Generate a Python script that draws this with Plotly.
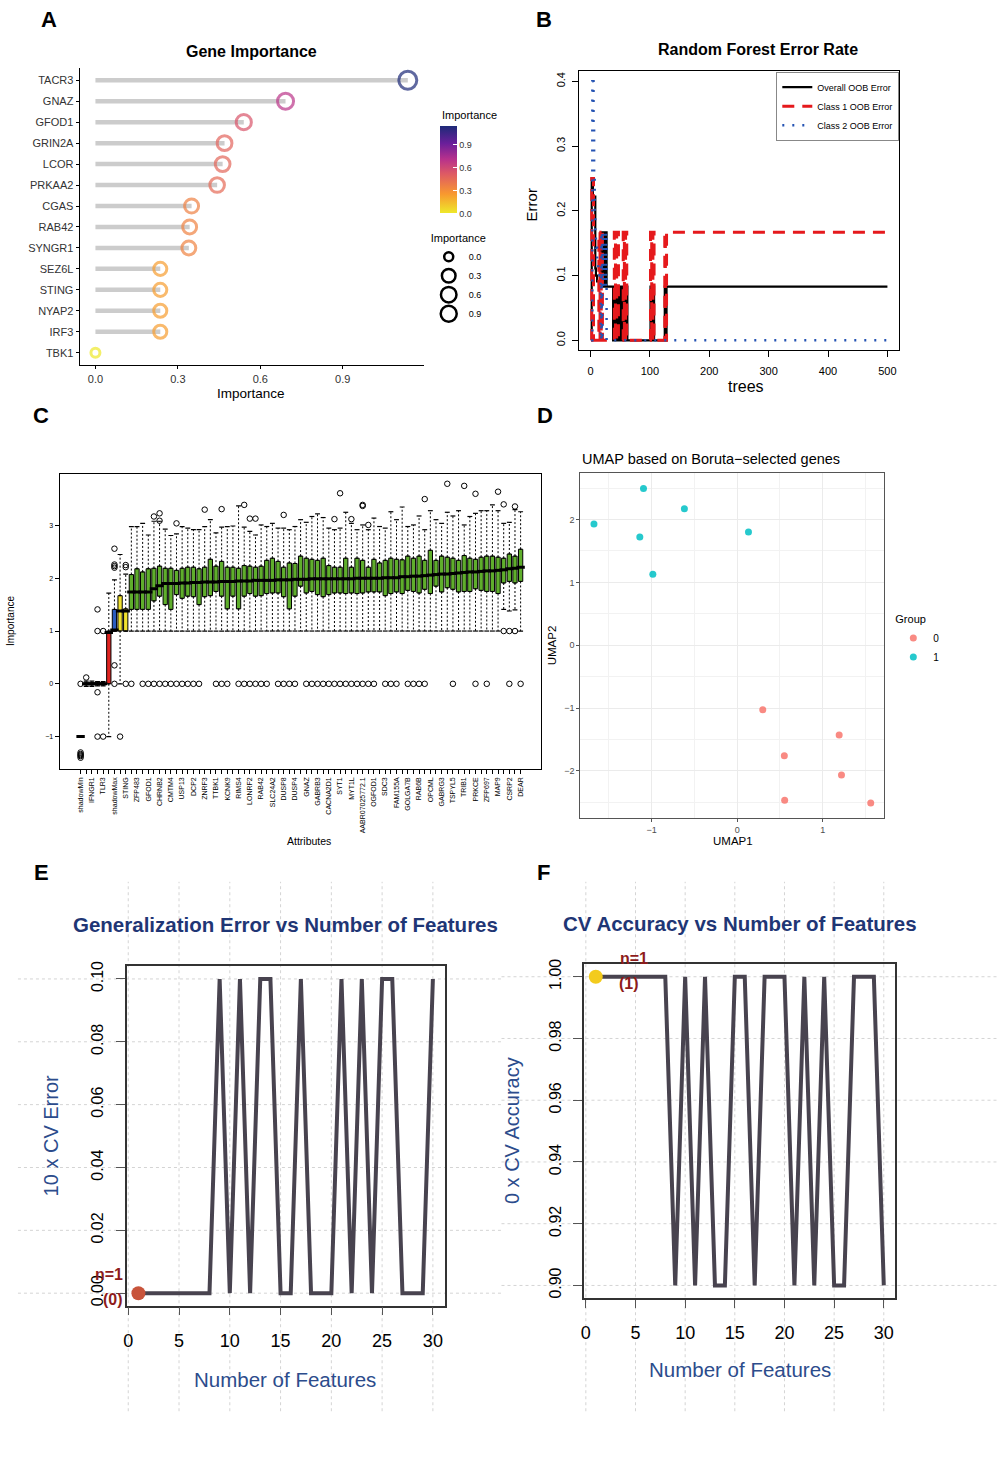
import math
import plotly.graph_objects as go

W, H = 999, 1462
FONT = "Arial, Liberation Sans, DejaVu Sans, sans-serif"
NAVY = "#1f3675"
NAVY2 = "#2c4c8c"
DARKRED = "#8e1b1b"

# ------------------------------------------------------------------ DATA
# A: gene importance
a_genes = ["TACR3", "GNAZ", "GFOD1", "GRIN2A", "LCOR", "PRKAA2", "CGAS",
           "RAB42", "SYNGR1", "SEZ6L", "STING", "NYAP2", "IRF3", "TBK1"]
a_importance = [1.137, 0.692, 0.540, 0.470, 0.463, 0.443, 0.350,
                0.343, 0.340, 0.236, 0.236, 0.236, 0.236, 0.0]
a_ticks = [0.0, 0.3, 0.6, 0.9]
a_ticklabels = ["0.0", "0.3", "0.6", "0.9"]

# B: random forest OOB error (change points, drawn as steps)
b_overall_trees = [1, 2, 4, 6, 8, 9, 11, 17,
                   18, 19, 20, 21, 22, 23, 24, 25, 26, 27,
                   38, 39, 40, 41, 42, 43, 44, 45, 46, 47, 48, 49, 50,
                   51, 52, 53, 54, 55, 56, 57, 58, 59, 60, 61, 62,
                   101, 103, 105, 107, 125, 126, 128, 500]
b_overall_err = [0.0, 0.25, 0.222, 0.222, 0.111, 0.1, 0.091, 0.091,
                 0.167, 0.091, 0.167, 0.083, 0.167, 0.083, 0.167, 0.083, 0.167, 0.083,
                 0.0, 0.083, 0.0, 0.083, 0.0, 0.083, 0.0, 0.083, 0.0, 0.083, 0.0, 0.083, 0.0,
                 0.083, 0.0, 0.083, 0.0, 0.083, 0.0, 0.083, 0.0, 0.083, 0.0, 0.083, 0.0,
                 0.083, 0.0, 0.083, 0.0, 0.083, 0.0, 0.083, 0.083]
b_class1_trees = [1, 2, 5, 14, 16, 18, 20,
                  40, 42, 44, 47, 55, 57, 59, 61,
                  101, 103, 105, 107, 125, 126, 128, 500]
b_class1_err = [0.0, 0.25, 0.0, 0.167, 0.0, 0.167, 0.0,
                0.167, 0.0, 0.167, 0.0, 0.167, 0.0, 0.167, 0.0,
                0.167, 0.0, 0.167, 0.0, 0.167, 0.0, 0.167, 0.167]
b_class2_trees = [1, 3, 5, 6, 7, 8, 9, 11, 13, 15, 17, 18, 19, 20, 21, 22, 23, 24, 25, 26, 27, 500]
b_class2_err = [0.0, 0.4, 0.333, 0.25, 0.2, 0.167, 0.143, 0.125, 0.111, 0.1, 0.0,
                0.167, 0.0, 0.167, 0.083, 0.167, 0.083, 0.167, 0.083, 0.167, 0.0, 0.0]
b_xticks = [0, 100, 200, 300, 400, 500]
b_yticks = [0.0, 0.1, 0.2, 0.3, 0.4]
b_yticklabels = ["0.0", "0.1", "0.2", "0.3", "0.4"]

# C: Boruta importance boxplots (79 attributes, every 2nd labelled)
c_labels = ["shadowMin", "IFNGR1", "TLR3", "shadowMax", "STING", "ZFP483", "GFOD1",
            "CHRNB2", "CMTM4", "USP13", "DCP2", "ZNRF3", "TTBK1", "KCNK9", "RIMS4",
            "LONRF2", "RAB42", "SLC24A2", "DUSP8", "DUSP4", "GNAZ", "GABRB3",
            "CACNA2D1", "SYT1", "MYT1L", "AABR07025772.1", "OGFOD1", "SDC3",
            "FAM155A", "GOLGA7B", "RAB6B", "OPCML", "GABRG3", "TSPYL5", "TRIB1",
            "PRKCE", "ZFP697", "MAP9", "CSRP2", "DEAR"]
c_status = (["shadow", "shadow", "rejected", "rejected", "rejected", "rejected",
             "shadow", "tentative", "tentative"] + ["confirmed"] * 70)
c_q1 = [-1.0, -0.02, -0.02, -0.02, -0.02, 0.0, 1.0, 1.0, 1.0,
        1.41, 1.41, 1.41, 1.41, 1.57, 1.66, 1.50, 1.41, 1.69, 1.62,
        1.66, 1.65, 1.50, 1.65, 1.67, 1.75, 1.66, 1.42, 1.66, 1.42,
        1.66, 1.71, 1.66, 1.67, 1.71, 1.72, 1.72, 1.65, 1.42, 1.66,
        1.85, 1.72, 1.75, 1.69, 1.65, 1.69, 1.72, 1.72, 1.71, 1.72,
        1.71, 1.72, 1.74, 1.74, 1.74, 1.67, 1.71, 1.74, 1.71, 1.77,
        1.75, 1.72, 1.79, 1.71, 1.85, 1.74, 1.82, 1.79, 1.74, 1.75,
        1.75, 1.80, 1.77, 1.75, 1.75, 1.71, 1.91, 1.94, 1.91, 1.94]
c_median = [-1.0, 0.0, 0.0, 0.0, 0.0, 0.97, 1.02, 1.38, 1.38,
            1.74, 1.74, 1.74, 1.74, 1.80, 1.86, 1.90, 1.90, 1.90, 1.91,
            1.91, 1.92, 1.92, 1.93, 1.93, 1.93, 1.94, 1.94, 1.94, 1.95,
            1.95, 1.95, 1.96, 1.96, 1.96, 1.96, 1.97, 1.97, 1.97, 1.98,
            1.98, 1.98, 1.99, 1.99, 1.99, 1.99, 1.99, 1.99, 1.99, 1.99,
            2.00, 2.00, 2.00, 2.00, 2.00, 2.01, 2.01, 2.01, 2.03, 2.03,
            2.04, 2.04, 2.05, 2.06, 2.07, 2.08, 2.08, 2.09, 2.10, 2.11,
            2.12, 2.12, 2.13, 2.14, 2.14, 2.15, 2.16, 2.18, 2.19, 2.21]
c_q3 = [-1.0, 0.02, 0.02, 0.02, 0.02, 1.0, 1.41, 1.67, 1.42,
        2.07, 2.18, 2.12, 2.18, 2.19, 2.23, 2.19, 2.19, 2.15, 2.19,
        2.21, 2.21, 2.18, 2.21, 2.36, 2.23, 2.32, 2.21, 2.21, 2.19,
        2.24, 2.23, 2.21, 2.23, 2.34, 2.38, 2.32, 2.21, 2.29, 2.28,
        2.42, 2.38, 2.36, 2.34, 2.38, 2.24, 2.21, 2.21, 2.38, 2.21,
        2.38, 2.34, 2.21, 2.36, 2.29, 2.34, 2.38, 2.36, 2.35, 2.42,
        2.38, 2.42, 2.34, 2.53, 2.34, 2.42, 2.40, 2.38, 2.34, 2.43,
        2.38, 2.36, 2.40, 2.42, 2.42, 2.40, 2.38, 2.46, 2.42, 2.55]
c_lower = [-1.0, -0.05, -0.05, -0.04, -0.04, -1.0, 1.0, 0.0, 1.0,
           1.0, 1.0, 1.0, 1.0, 1.0, 1.0, 1.0, 1.0, 1.0, 1.0,
           1.0, 1.0, 1.0, 1.0, 1.0, 1.0, 1.0, 1.0, 1.0, 1.0,
           1.0, 1.0, 1.0, 1.0, 1.0, 1.0, 1.0, 1.0, 1.0, 1.0,
           1.0, 1.0, 1.0, 1.0, 1.0, 1.0, 1.0, 1.0, 1.0, 1.0,
           1.0, 1.0, 1.0, 1.0, 1.0, 1.0, 1.0, 1.0, 1.0, 1.0,
           1.0, 1.0, 1.0, 1.0, 1.0, 1.0, 1.0, 1.0, 1.0, 1.0,
           1.0, 1.0, 1.0, 1.0, 1.0, 1.0, 1.41, 1.38, 1.40, 1.0]
c_upper = [-1.0, 0.05, 0.05, 0.04, 0.04, 1.72, 1.97, 2.45, 2.08,
           2.98, 2.98, 3.04, 2.82, 3.08, 3.08, 2.93, 2.81, 2.84, 2.98,
           2.95, 2.92, 2.92, 2.98, 3.11, 2.86, 2.97, 2.98, 2.99, 3.37,
           2.97, 2.89, 2.82, 3.01, 2.98, 3.04, 2.95, 2.95, 2.92, 2.98,
           3.11, 3.06, 3.17, 3.22, 3.15, 2.95, 2.92, 2.95, 3.25, 3.04,
           2.92, 3.01, 2.92, 3.14, 2.98, 2.95, 3.26, 3.11, 3.35, 2.98,
           3.01, 3.18, 2.92, 3.28, 3.11, 3.04, 3.25, 3.18, 3.28, 3.01,
           3.17, 3.23, 3.28, 3.28, 3.39, 3.28, 3.04, 3.06, 3.30, 3.26]
c_outliers = [(0, 0.0), (0, -1.30), (0, -1.33), (0, -1.35), (0, -1.37), (0, -1.40),
              (1, 0.12), (3, 1.41), (3, 1.0), (3, -0.16), (3, -1.0), (4, 1.0), (4, -1.0),
              (6, 2.20), (6, 2.23), (6, 2.26), (6, 2.56), (6, 0.35), (6, 0.0),
              (7, -1.0), (8, 2.21), (8, 2.25), (8, 0.0), (9, 0.0),
              (11, 0.0), (12, 0.0), (13, 0.0), (14, 0.0), (15, 0.0), (16, 0.0),
              (17, 0.0), (18, 0.0), (19, 0.0), (20, 0.0), (21, 0.0),
              (24, 0.0), (25, 0.0), (26, 0.0),
              (28, 0.0), (29, 0.0), (30, 0.0), (31, 0.0), (32, 0.0), (33, 0.0),
              (35, 0.0), (36, 0.0), (37, 0.0), (38, 0.0),
              (40, 0.0), (41, 0.0), (42, 0.0), (43, 0.0), (44, 0.0), (45, 0.0), (46, 0.0),
              (47, 0.0), (48, 0.0), (49, 0.0), (50, 0.0), (51, 0.0), (52, 0.0),
              (54, 0.0), (55, 0.0), (56, 0.0), (58, 0.0), (59, 0.0), (60, 0.0), (61, 0.0),
              (66, 0.0), (70, 0.0), (72, 0.0), (76, 0.0), (78, 0.0),
              (13, 3.17), (14, 3.23), (14, 3.09), (17, 3.04), (22, 3.30), (25, 3.31),
              (29, 3.39), (30, 3.13), (31, 3.13), (36, 3.20), (45, 3.12), (46, 3.61),
              (48, 3.12), (50, 3.39), (50, 3.37), (51, 3.01), (61, 3.50), (65, 3.79),
              (68, 3.75), (70, 3.60), (74, 3.64), (75, 3.40), (77, 3.36),
              (75, 1.0), (76, 1.0), (77, 1.0)]
c_yticks = [-1, 0, 1, 2, 3]

# D: UMAP
d_g0_x = [0.299, 1.192, 0.551, 1.219, 0.555, 1.561]
d_g0_y = [-1.025, -1.426, -1.759, -2.066, -2.467, -2.509]
d_g1_x = [-1.674, -1.095, -0.617, -1.138, -0.986, 0.132]
d_g1_y = [1.928, 2.493, 2.171, 1.722, 1.130, 1.801]

# E / F: RFE curves
ef_n = [1, 2, 3, 4, 5, 6, 7, 8, 9, 10, 11, 12, 13, 14, 15,
        16, 17, 18, 19, 20, 21, 22, 23, 24, 25, 26, 27, 28, 29, 30]
e_err = [0.0, 0.0, 0.0, 0.0, 0.0, 0.0, 0.0, 0.0, 0.1, 0.0, 0.1, 0.0, 0.1, 0.1, 0.0,
         0.0, 0.1, 0.0, 0.0, 0.0, 0.1, 0.0, 0.1, 0.0, 0.1, 0.1, 0.0, 0.0, 0.0, 0.1]
f_acc = [1.0, 1.0, 1.0, 1.0, 1.0, 1.0, 1.0, 1.0, 0.9, 1.0, 0.9, 1.0, 0.9, 0.9, 1.0,
         1.0, 0.9, 1.0, 1.0, 1.0, 0.9, 1.0, 0.9, 1.0, 0.9, 0.9, 1.0, 1.0, 1.0, 0.9]
ef_xticks = [0, 5, 10, 15, 20, 25, 30]
e_yticks = [0.0, 0.02, 0.04, 0.06, 0.08, 0.10]
e_yticklabels = ["0.00", "0.02", "0.04", "0.06", "0.08", "0.10"]
f_yticks = [0.90, 0.92, 0.94, 0.96, 0.98, 1.00]
f_yticklabels = ["0.90", "0.92", "0.94", "0.96", "0.98", "1.00"]


# ------------------------------------------------------------------ helpers
def px(v):
    return v / W


def py(v):
    return 1 - v / H


def xdom(l, r):
    return [l / W, r / W]


def ydom(t, b):
    return [1 - b / H, 1 - t / H]


fig = go.Figure()

# ------------------------------------------------------------------ A
A_SCALE = [[0.0, "#eee82a"], [0.22, "#f8982f"], [0.45, "#de5a64"],
           [0.62, "#b7318c"], [0.8, "#6a1f9a"], [1.0, "#1d2a78"]]
a_max = max(a_importance)
seg_x, seg_y = [], []
for g, v in zip(a_genes, a_importance):
    seg_x += [0, v, None]
    seg_y += [g, g, None]
fig.add_trace(go.Scatter(x=seg_x, y=seg_y, mode="lines",
                         line=dict(color="#cccccc", width=4.5),
                         xaxis="x", yaxis="y", showlegend=False, hoverinfo="skip"))
a_sizes = [9 + 9 * math.sqrt(v / a_max) for v in a_importance]
fig.add_trace(go.Scatter(
    x=a_importance, y=a_genes, mode="markers", xaxis="x", yaxis="y", showlegend=False,
    marker=dict(symbol="circle-open", size=a_sizes, color=a_importance,
                colorscale=A_SCALE, cmin=0, cmax=a_max, line=dict(width=3),
                showscale=True,
                colorbar=dict(x=px(438), xanchor="left", y=py(121), yanchor="top",
                              len=87 / H, lenmode="fraction", thickness=17,
                              thicknessmode="pixels", outlinewidth=0,
                              tickvals=a_ticks, ticktext=a_ticklabels,
                              ticks="inside", ticklen=4, tickcolor="white",
                              tickfont=dict(size=9, color="#333"), xpad=0, ypad=0))))
for lab, v in zip(a_ticklabels, a_ticks):
    fig.add_trace(go.Scatter(
        x=[None], y=[None], mode="markers", xaxis="x", yaxis="y", name=lab,
        legend="legend2",
        marker=dict(symbol="circle-open", size=9 + 9 * math.sqrt(v / a_max),
                    color="black", line=dict(width=2.5))))

# ------------------------------------------------------------------ B
fig.add_trace(go.Scatter(x=b_overall_trees, y=b_overall_err, mode="lines",
                         name="Overall OOB Error", xaxis="x2", yaxis="y2",
                         line=dict(color="black", width=2.2, shape="hv")))
fig.add_trace(go.Scatter(x=b_class1_trees, y=b_class1_err, mode="lines",
                         name="Class 1 OOB Error", xaxis="x2", yaxis="y2",
                         line=dict(color="#e5191c", width=3, shape="hv", dash="12px,8px")))
fig.add_trace(go.Scatter(x=b_class2_trees, y=b_class2_err, mode="lines",
                         name="Class 2 OOB Error", xaxis="x2", yaxis="y2",
                         line=dict(color="#2453b3", width=2.5, shape="hv", dash="2px,8px")))

# ------------------------------------------------------------------ C
C_COLORS = {"shadow": "#2a5cc0", "rejected": "#e02420",
            "tentative": "#f1e230", "confirmed": "#5fae2c"}
for status in ["shadow", "rejected", "tentative", "confirmed"]:
    idx = [i for i, s in enumerate(c_status) if s == status]
    fig.add_trace(go.Box(
        x=idx, q1=[c_q1[i] for i in idx], median=[c_median[i] for i in idx],
        q3=[c_q3[i] for i in idx], lowerfence=[c_q1[i] for i in idx],
        upperfence=[c_q3[i] for i in idx], width=0.76,
        fillcolor=C_COLORS[status], line=dict(color="black", width=1),
        xaxis="x3", yaxis="y3", showlegend=False, hoverinfo="skip"))
wx, wy = [], []
for i in range(len(c_q1)):
    wx += [i, i, None, i, i, None]
    wy += [c_q3[i], c_upper[i], None, c_q1[i], c_lower[i], None]
fig.add_trace(go.Scatter(x=wx, y=wy, mode="lines", xaxis="x3", yaxis="y3",
                         line=dict(color="black", width=1, dash="2px,2px"),
                         showlegend=False, hoverinfo="skip"))
cap_x = list(range(len(c_q1))) * 2
cap_y = c_upper + c_lower
fig.add_trace(go.Scatter(x=cap_x, y=cap_y, mode="markers", xaxis="x3", yaxis="y3",
                         marker=dict(symbol="line-ew-open", size=3.5, color="black",
                                     line=dict(color="black", width=1.2)),
                         showlegend=False, hoverinfo="skip"))
fig.add_trace(go.Scatter(x=list(range(len(c_median))), y=c_median, mode="markers",
                         xaxis="x3", yaxis="y3",
                         marker=dict(symbol="line-ew-open", size=6, color="black",
                                     line=dict(color="black", width=3)),
                         showlegend=False, hoverinfo="skip"))
fig.add_trace(go.Scatter(x=[o[0] for o in c_outliers], y=[o[1] for o in c_outliers],
                         mode="markers", xaxis="x3", yaxis="y3",
                         marker=dict(symbol="circle-open", size=5.5, color="black",
                                     line=dict(width=1)),
                         showlegend=False, hoverinfo="skip"))
c_ticktext = [c_labels[i // 2] if i % 2 == 0 else "" for i in range(len(c_q1))]

# ------------------------------------------------------------------ D
fig.add_trace(go.Scatter(x=d_g0_x, y=d_g0_y, mode="markers", name="0",
                         legend="legend3", xaxis="x4", yaxis="y4",
                         marker=dict(color="#F8766D", size=7, opacity=0.85)))
fig.add_trace(go.Scatter(x=d_g1_x, y=d_g1_y, mode="markers", name="1",
                         legend="legend3", xaxis="x4", yaxis="y4",
                         marker=dict(color="#00BFC4", size=7, opacity=0.85)))

# ------------------------------------------------------------------ E / F
LINE_COL = "#48434f"
fig.add_trace(go.Scatter(x=ef_n, y=e_err, mode="lines", xaxis="x5", yaxis="y5",
                         line=dict(color=LINE_COL, width=4), showlegend=False))
fig.add_trace(go.Scatter(x=[ef_n[0]], y=[e_err[0]], mode="markers", xaxis="x5", yaxis="y5",
                         marker=dict(color="#c8543b", size=14), showlegend=False))
fig.add_trace(go.Scatter(x=ef_n, y=f_acc, mode="lines", xaxis="x6", yaxis="y6",
                         line=dict(color=LINE_COL, width=4), showlegend=False))
fig.add_trace(go.Scatter(x=[ef_n[0]], y=[f_acc[0]], mode="markers", xaxis="x6", yaxis="y6",
                         marker=dict(color="#f3cb1d", size=14), showlegend=False))

shapes = []
for xa, ya, ticks_x, ticks_y, left, right in [("x5", "y5", ef_xticks, e_yticks, 15, 500),
                                               ("x6", "y6", ef_xticks, f_yticks, 500, 999)]:
    for t in ticks_x:
        shapes.append(dict(type="line", xref=xa, yref="paper", x0=t, x1=t,
                           y0=py(1412), y1=py(880), layer="below",
                           line=dict(color="#d4d4d4", width=1, dash="dot")))
    for t in ticks_y:
        shapes.append(dict(type="line", xref="paper", yref=ya, x0=px(left), x1=px(right),
                           y0=t, y1=t, layer="below",
                           line=dict(color="#d4d4d4", width=1, dash="dot")))

# ------------------------------------------------------------------ layout
def base_axis(**kw):
    d = dict(showgrid=False, zeroline=False, showline=True, linecolor="black",
             linewidth=1, ticks="outside", tickcolor="black", mirror=False)
    d.update(kw)
    return d


layout = dict(
    width=W, height=H, margin=dict(l=0, r=0, t=0, b=0),
    paper_bgcolor="white", plot_bgcolor="white",
    font=dict(family=FONT, color="black"),
    shapes=shapes,
    # A
    xaxis=base_axis(domain=xdom(77, 422), anchor="y", range=[-0.057, 1.195],
                    tickvals=a_ticks, ticktext=a_ticklabels, ticklen=3,
                    linewidth=1.3, tickfont=dict(size=11, color="#333")),
    yaxis=base_axis(domain=ydom(62, 361), anchor="x", type="category",
                    categoryorder="array", categoryarray=a_genes[::-1],
                    range=[-0.6, 13.6], ticklen=3, linewidth=1.3,
                    tickfont=dict(size=11, color="#333")),
    # B
    xaxis2=base_axis(domain=xdom(578, 899), anchor="y2", range=[-19, 520],
                     tickvals=b_xticks, ticklen=6, mirror=True, linewidth=1.3,
                     ticklabelstandoff=4, tickfont=dict(size=11)),
    yaxis2=base_axis(domain=ydom(65, 346), anchor="x2", range=[-0.0154, 0.4165],
                     tickvals=b_yticks, ticktext=b_yticklabels, tickangle=-90,
                     ticklen=6, mirror=True, linewidth=1.3, ticklabelstandoff=3,
                     tickfont=dict(size=11)),
    # C
    xaxis3=base_axis(domain=xdom(57, 540), anchor="y3", range=[-3.68, 81.68],
                     tickvals=list(range(len(c_q1))), ticktext=c_ticktext,
                     tickangle=-90, ticklen=4, mirror=True, linewidth=1.3,
                     tickfont=dict(size=7)),
    yaxis3=base_axis(domain=ydom(470, 767), anchor="x3", range=[-1.62, 3.98],
                     tickvals=c_yticks, ticklen=4, mirror=True, linewidth=1.3,
                     tickfont=dict(size=7)),
    # D
    xaxis4=dict(domain=xdom(579, 884), anchor="y4", range=[-1.834, 1.72],
                tickvals=[-1, 0, 1], showgrid=True, gridcolor="#ebebeb", gridwidth=1.2,
                zeroline=False, showline=True, mirror=True, linecolor="#555", linewidth=1,
                ticks="outside", ticklen=3, tickcolor="#555",
                tickfont=dict(size=9, color="#4d4d4d"),
                minor=dict(tickvals=[-1.5, -0.5, 0.5, 1.5], showgrid=True,
                           gridcolor="#f2f2f2", gridwidth=0.8)),
    yaxis4=dict(domain=ydom(469, 816), anchor="x4", range=[-2.75, 2.745],
                tickvals=[-2, -1, 0, 1, 2], showgrid=True, gridcolor="#ebebeb", gridwidth=1.2,
                zeroline=False, showline=True, mirror=True, linecolor="#555", linewidth=1,
                ticks="outside", ticklen=3, tickcolor="#555",
                tickfont=dict(size=9, color="#4d4d4d"),
                minor=dict(tickvals=[-2.5, -1.5, -0.5, 0.5, 1.5, 2.5], showgrid=True,
                           gridcolor="#f2f2f2", gridwidth=0.8)),
    # E
    xaxis5=base_axis(domain=xdom(124, 443), anchor="y5", range=[-0.16, 31.16],
                     tickvals=ef_xticks, ticklen=8, mirror=True, linecolor="#333",
                     linewidth=1.5, tickcolor="#555", ticklabelstandoff=10,
                     tickfont=dict(size=18)),
    yaxis5=base_axis(domain=ydom(965, 1306), anchor="x5", range=[-0.004, 0.104],
                     tickvals=e_yticks, ticktext=e_yticklabels, tickangle=-90,
                     ticklen=9, mirror=True, linecolor="#333", linewidth=1.5,
                     tickcolor="#555", ticklabelstandoff=6, tickfont=dict(size=16)),
    # F
    xaxis6=base_axis(domain=xdom(583, 895), anchor="y6", range=[-0.16, 31.16],
                     tickvals=ef_xticks, ticklen=8, mirror=True, linecolor="#333",
                     linewidth=1.5, tickcolor="#555", ticklabelstandoff=10,
                     tickfont=dict(size=18)),
    yaxis6=base_axis(domain=ydom(963, 1298), anchor="x6", range=[0.896, 1.004],
                     tickvals=f_yticks, ticktext=f_yticklabels, tickangle=-90,
                     ticklen=9, mirror=True, linecolor="#333", linewidth=1.5,
                     tickcolor="#555", ticklabelstandoff=6, tickfont=dict(size=16)),
    legend=dict(x=px(899), y=py(66), xanchor="right", yanchor="top", bgcolor="white",
                bordercolor="#888", borderwidth=1, font=dict(size=9),
                tracegroupgap=0, itemwidth=30),
    legend2=dict(x=px(427), y=py(223), xanchor="left", yanchor="top",
                 bgcolor="rgba(0,0,0,0)", itemsizing="trace", font=dict(size=9),
                 title=dict(text="Importance", font=dict(size=11)), tracegroupgap=0),
    legend3=dict(x=px(893), y=py(606), xanchor="left", yanchor="top",
                 bgcolor="rgba(0,0,0,0)", font=dict(size=10),
                 title=dict(text="Group", font=dict(size=11)), tracegroupgap=0),
)
fig.update_layout(**layout)


# ------------------------------------------------------------------ annotations
def ann(text, x, y, size, color="black", bold=False, angle=0, xanchor="center"):
    return dict(text=f"<b>{text}</b>" if bold else text, x=px(x), y=py(y),
                xref="paper", yref="paper", showarrow=False, textangle=angle,
                xanchor=xanchor, yanchor="middle",
                font=dict(size=size, color=color, family=FONT))


annotations = [
    ann("A", 46, 14, 22, bold=True), ann("B", 543, 14, 22, bold=True),
    ann("C", 38, 411, 22, bold=True), ann("D", 544, 411, 22, bold=True),
    ann("E", 39, 871, 22, bold=True), ann("F", 542, 871, 22, bold=True),
    ann("Gene Importance", 249, 46, 16, bold=True),
    ann("Importance", 249, 389, 13.5),
    ann("Importance", 438, 110, 11, xanchor="left"),
    ann("Random Forest Error Rate", 757, 44, 16, bold=True),
    ann("trees", 745, 382, 16),
    ann("Error", 530, 200, 15, angle=-90),
    ann("Importance", 7, 618, 10, angle=-90),
    ann("Attributes", 307, 839, 10.5),
    ann("UMAP based on Boruta\u2212selected genes", 579, 455, 14.5, xanchor="left"),
    ann("UMAP1", 732, 839, 11.5),
    ann("UMAP2", 551, 642, 11.5, angle=-90),
    ann("Generalization Error vs Number of Features", 283, 923, 20.5, color=NAVY, bold=True),
    ann("10 x CV Error", 48, 1135, 20, color=NAVY2, angle=-90),
    ann("Number of Features", 283, 1380, 20.5, color=NAVY2),
    ann("CV Accuracy vs Number of Features", 739, 922, 20.5, color=NAVY, bold=True),
    ann("0 x CV Accuracy", 510, 1130, 20, color=NAVY2, angle=-90),
    ann("Number of Features", 739, 1370, 20.5, color=NAVY2),
]
# point labels for the best model size
annotations += [
    dict(text=f"<b>n={ef_n[0]}</b>", x=ef_n[0], y=e_err[0], xref="x5", yref="y5",
         showarrow=False, xshift=-29, yshift=19, font=dict(size=16, color=DARKRED)),
    dict(text=f"<b>({e_err[0]:g})</b>", x=ef_n[0], y=e_err[0], xref="x5", yref="y5",
         showarrow=False, xshift=-25, yshift=-6, font=dict(size=16, color=DARKRED)),
    dict(text=f"<b>n={ef_n[0]}</b>", x=ef_n[0], y=f_acc[0], xref="x6", yref="y6",
         showarrow=False, xshift=38, yshift=18, font=dict(size=16, color=DARKRED)),
    dict(text=f"<b>({f_acc[0]:g})</b>", x=ef_n[0], y=f_acc[0], xref="x6", yref="y6",
         showarrow=False, xshift=33, yshift=-7, font=dict(size=16, color=DARKRED)),
]
fig.update_layout(annotations=annotations)

fig.write_html("out.html")
